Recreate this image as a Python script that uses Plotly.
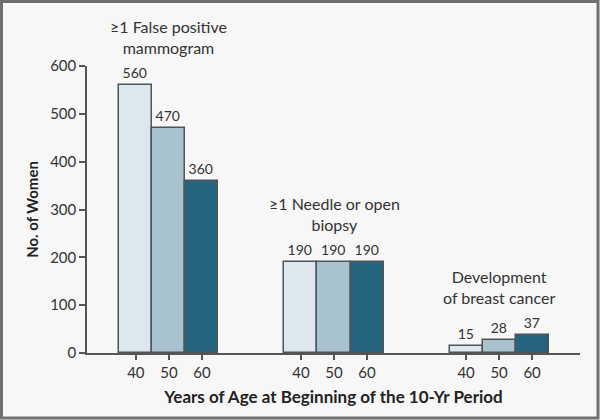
import plotly.graph_objects as go

groups = ["≥1 False positive<br>mammogram", "≥1 Needle or open<br>biopsy", "Development<br>of breast cancer"]
ages = ["40", "50", "60"]
age40 = [560, 190, 15]
age50 = [470, 190, 28]
age60 = [360, 190, 37]
y_ticks = [0, 100, 200, 300, 400, 500, 600]

colors = ["#dde7ee", "#a9c2d0", "#25647e"]
series = [age40, age50, age60]
GAP = 5  # group spacing in bar widths
FONT = "Lato"
YMAX = 600

fig = go.Figure()
tickvals, ticktext = [], []
for i, (vals, col) in enumerate(zip(series, colors)):
    xs = [g * GAP + i for g in range(len(groups))]
    tickvals += xs
    ticktext += [ages[i]] * len(groups)
    fig.add_trace(go.Bar(
        x=xs, y=vals, width=1.0, marker=dict(color=col, line=dict(color="#4f5458", width=1.5)),
        text=[str(v) for v in vals], textposition="outside", cliponaxis=False,
        textfont=dict(size=14, color="#333333", family=FONT), showlegend=False,
        hoverinfo="skip",
    ))

for g, label in enumerate(groups):
    top = max(s[g] for s in series)
    fig.add_annotation(x=g * GAP + 1, xref="x", y=(top + 100) / YMAX, yref="paper",
                       text=label, showarrow=False,
                       font=dict(size=16, color="#333333", family=FONT), yanchor="middle")

L, R, T, B = 87, 20, 66, 67
W, H = 600, 420
pw, ph = W - L - R, H - T - B
fig.add_shape(type="rect", xref="paper", yref="paper",
              x0=(1.5 - L) / pw, x1=(W - 2 - L) / pw,
              y0=(H - B - (H - 2)) / ph, y1=(H - B - 1.5) / ph,
              line=dict(color="#707070", width=3), layer="above")

fig.update_layout(
    width=W, height=H, margin=dict(l=L, r=R, t=T, b=B, autoexpand=False),
    paper_bgcolor="#f7f7f7", plot_bgcolor="#f7f7f7", bargap=0,
    font=dict(family=FONT, color="#222222"),
    xaxis=dict(range=[-1.48, 13.45], tickvals=tickvals, ticktext=ticktext, automargin=False,
               showgrid=False, zeroline=False, showline=True, linecolor="#555555", linewidth=1.5,
               ticks="outside", ticklen=5, tickcolor="#555555", tickwidth=1.5,
               tickfont=dict(size=15, color="#333333"),
               title=dict(text="<b>Years of Age at Beginning of the 10-Yr Period</b>",
                          font=dict(size=17, color="#222222"), standoff=11)),
    yaxis=dict(range=[0, YMAX], tickvals=y_ticks, showgrid=False, zeroline=False, automargin=False,
               showline=True, linecolor="#555555", linewidth=1.5,
               ticks="outside", ticklen=6, tickcolor="#555555", tickwidth=1.5,
               tickfont=dict(size=15, color="#333333"),
               title=dict(text="<b>No. of Women</b>", font=dict(size=15, color="#222222"), standoff=8)),
)
fig.write_html("out.html", config={"displayModeBar": False},
               post_script="document.body.style.margin='0';")
